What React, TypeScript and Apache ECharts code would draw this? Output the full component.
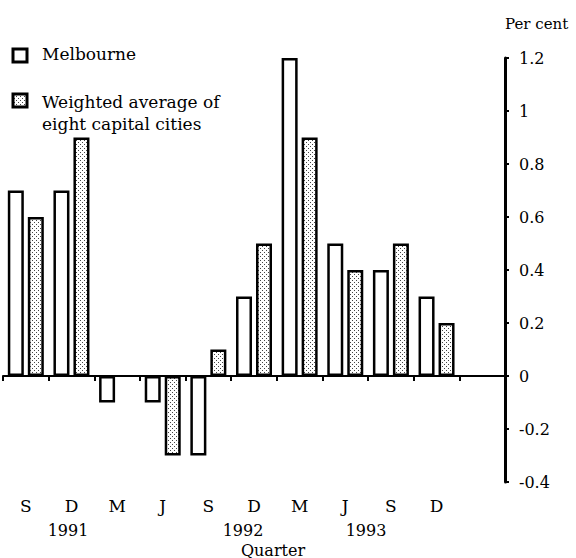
import React, { useEffect, useRef } from "react";
import * as echarts from "echarts";

const quarters = ["S", "D", "M", "J", "S", "D", "M", "J", "S", "D", ""];
const melbourne = [0.7, 0.7, -0.1, -0.1, -0.3, 0.3, 1.2, 0.5, 0.4, 0.3];
const weighted = [0.6, 0.9, 0, -0.3, 0.1, 0.5, 0.9, 0.4, 0.5, 0.2];
const years = [
  { text: "1991", x: 68 },
  { text: "1992", x: 243 },
  { text: "1993", x: 366 },
];
const seriesNames = ["Melbourne", "Weighted average of\neight capital cities"];

const FONT = "DejaVu Serif";

function makeStipple(): any {
  const c = document.createElement("canvas");
  c.width = 4;
  c.height = 4;
  const ctx = c.getContext("2d");
  if (!ctx) return "#cccccc";
  ctx.fillStyle = "#ffffff";
  ctx.fillRect(0, 0, 4, 4);
  ctx.fillStyle = "#444444";
  ctx.fillRect(0, 0, 1, 1);
  ctx.fillRect(2, 2, 1, 1);
  return { image: c.toDataURL(), repeat: "repeat" };
}

export default function App() {
  const ref = useRef<HTMLDivElement>(null);
  useEffect(() => {
    if (!ref.current) return;
    const chart = echarts.init(ref.current, undefined, { renderer: "svg" });
    const stipple = makeStipple();
    const option: any = {
      animation: false,
      backgroundColor: "#ffffff",
      textStyle: { fontFamily: FONT, color: "#000" },
      grid: { left: 3, right: 71, top: 58, bottom: 76, containLabel: false },
      xAxis: [
        {
          type: "category",
          data: quarters,
          axisLine: { onZero: true, lineStyle: { color: "#000", width: 2 } },
          axisTick: { show: true, length: 5, lineStyle: { color: "#000", width: 2 } },
          axisLabel: { show: false },
          splitLine: { show: false },
        },
        {
          type: "category",
          data: quarters,
          position: "bottom",
          axisLine: { show: false, onZero: false },
          axisTick: { show: false },
          axisLabel: {
            show: true,
            interval: 0,
            margin: 15,
            fontFamily: FONT,
            fontSize: 17,
            color: "#000",
          },
          splitLine: { show: false },
        },
      ],
      yAxis: {
        type: "value",
        position: "right",
        min: -0.4,
        max: 1.2,
        interval: 0.2,
        axisLine: { show: true, lineStyle: { color: "#000", width: 3 } },
        axisTick: { show: true, inside: false, length: 4, lineStyle: { color: "#000", width: 2 } },
        axisLabel: {
          margin: 14,
          fontFamily: FONT,
          fontSize: 16,
          color: "#000",
          formatter: (v: number) => String(Math.round(v * 10) / 10),
        },
        splitLine: { show: false },
      },
      series: [
        {
          name: seriesNames[0],
          type: "bar",
          xAxisIndex: 0,
          data: melbourne,
          barWidth: 16,
          barGap: "25%",
          itemStyle: { color: "#ffffff", borderColor: "#000", borderWidth: 2.5 },
        },
        {
          name: seriesNames[1],
          type: "bar",
          xAxisIndex: 0,
          data: weighted.map((v) => (v === 0 ? null : v)),
          barWidth: 16,
          barGap: "25%",
          itemStyle: { color: stipple, borderColor: "#000", borderWidth: 2.5 },
        },
      ],
      graphic: [
        {
          type: "rect",
          shape: { x: 13, y: 49, width: 14, height: 13 },
          style: { fill: "#ffffff", stroke: "#000", lineWidth: 3 },
        },
        {
          type: "text",
          left: 42,
          top: 45,
          style: { text: seriesNames[0], font: `17px "${FONT}"`, fill: "#000" },
        },
        {
          type: "rect",
          shape: { x: 13, y: 94, width: 14, height: 13 },
          style: { fill: stipple, stroke: "#000", lineWidth: 3 },
        },
        {
          type: "text",
          left: 42,
          top: 91,
          style: {
            text: seriesNames[1],
            font: `17px "${FONT}"`,
            fill: "#000",
            lineHeight: 22,
          },
        },
        {
          type: "text",
          left: 505,
          top: 16,
          style: { text: "Per cent", font: `15px "${FONT}"`, fill: "#000" },
        },
        ...years.map((y) => ({
          type: "text",
          x: y.x,
          y: 530,
          style: {
            text: y.text,
            font: `16px "${FONT}"`,
            fill: "#000",
            align: "center",
            verticalAlign: "middle",
          },
        })),
        {
          type: "text",
          x: 273,
          y: 550,
          style: {
            text: "Quarter",
            font: `16px "${FONT}"`,
            fill: "#000",
            align: "center",
            verticalAlign: "middle",
          },
        },
      ],
    };
    chart.setOption(option);
    return () => chart.dispose();
  }, []);
  return (
    <div
      ref={ref}
      style={{ position: "fixed", left: 0, top: 0, width: 576, height: 558 }}
    />
  );
}
